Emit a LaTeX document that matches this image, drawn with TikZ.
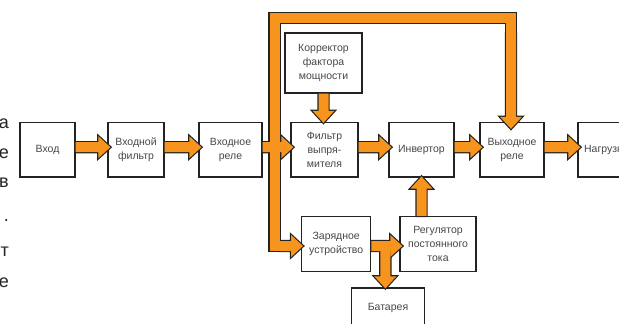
\documentclass[tikz,border=0pt]{standalone}
\usepackage{fontspec}
\setmainfont{Liberation Sans}
\usetikzlibrary{calc}

\pgfdeclarelayer{pipeback}
\pgfsetlayers{pipeback,main}

\definecolor{pipeorange}{RGB}{247,148,30}
\definecolor{boxline}{RGB}{35,35,35}
\definecolor{labelgray}{RGB}{70,70,70}

\tikzset{
  blk/.style={draw=boxline, line width=1.3pt, align=center, text=labelgray,
    font=\fontsize{10.5}{13.8}\selectfont, inner sep=1pt},
  frag/.style={text=boxline, font=\fontsize{18}{20}\selectfont, inner sep=0pt, anchor=base east},
}

% orange pipe: black outline behind, orange fill in front
\newcommand{\pipe}[1]{%
  \begin{pgfonlayer}{pipeback}
    \draw[boxline, line width=2.4pt, line join=miter] #1;
  \end{pgfonlayer}
  \fill[pipeorange] #1;}
\newcommand{\pipeline}[1]{%
  \begin{pgfonlayer}{pipeback}
    \draw[boxline, line width=12.4pt, line join=miter] #1;
  \end{pgfonlayer}
  \draw[pipeorange, line width=10pt, line join=miter] #1;}
% block arrow from #1 to tip #2
\newcommand{\blockarrow}[2]{%
  \coordinate (S) at (#1);
  \coordinate (T) at (#2);
  \coordinate (B) at ($(T)!12pt!(S)$);
  \pipe{($(S)!5pt!90:(T)$) -- ($(B)!5pt!-90:(S)$) -- ($(B)!11pt!-90:(S)$) -- (T) -- ($(B)!11pt!90:(S)$) -- ($(B)!5pt!90:(S)$) -- ($(S)!5pt!-90:(T)$) -- cycle}}
\newcommand{\harrow}[2]{\blockarrow{$(#1.east)+(0,-2.5)$}{$(#1.east -| #2.west)+(3,-2.5)$}}

\begin{document}
\begin{tikzpicture}[x=1pt,y=1pt,yscale=-1,xscale=1]
\useasboundingbox (0,0) rectangle (619,324);

% Text Node
\node[frag] (fragA) at (9,128) {а};
\node[frag] (fragB) at (9,158) {е};
\node[frag] (fragC) at (9,187) {в};
\node[frag] (fragD) at (9,221) {.};
\node[frag] (fragE) at (9,256) {т};
\node[frag] (fragF) at (9,287) {е};

% Block Nodes
\node[blk, minimum width=55pt, minimum height=54.5pt] (vhod) at (47.5,149.7) {Вход};
\node[blk, minimum width=56pt, minimum height=54.5pt] (vfiltr) at (136,149.7) {Входной\\фильтр};
\node[blk, minimum width=63pt, minimum height=54.5pt] (vrele) at (230.5,149.7) {Входное\\реле};
\node[blk, minimum width=67pt, minimum height=54.5pt] (filtr) at (324.5,149.7) {Фильтр\\выпря-\\мителя};
\node[blk, minimum width=65pt, minimum height=54.5pt] (invertor) at (421.5,149.7) {Инвертор};
\node[blk, minimum width=64pt, minimum height=54.5pt] (vyhrele) at (512,149.7) {Выходное\\реле};
\node[blk, minimum width=56pt, minimum height=54.5pt] (nagruzka) at (606,149.7) {Нагрузка};
\node[blk, minimum width=77pt, minimum height=60pt] (korrektor) at (323.5,63) {Корректор\\фактора\\мощности};
\node[blk, minimum width=69pt, minimum height=54.5pt] (zaryad) at (336.2,244) {Зарядное\\устройство};
\node[blk, minimum width=76pt, minimum height=55pt] (regul) at (438,244) {Регулятор\\постоянного\\тока};
\node[blk, minimum width=72.6pt, minimum height=40pt] (batareya) at (388,308) {Батарея};

% Bus
\coordinate (busL) at (274.5,18);
\coordinate (busR) at (511,18);
\coordinate (busB) at (274.5,246);
\pipeline{($(busB)+(10,0)$) -- (busB) -- (busL) -- (busR) -- ($(busR)+(0,20)$)}

% Block Arrows
\harrow{vhod}{vfiltr}
\harrow{vfiltr}{vrele}
\harrow{vrele}{filtr}
\harrow{filtr}{invertor}
\harrow{invertor}{vyhrele}
\harrow{vyhrele}{nagruzka}
\blockarrow{korrektor.south}{$(korrektor.south |- filtr.north)+(0,1)$}
\blockarrow{$(busR)+(0,15)$}{$(busR |- vyhrele.north)+(0,7)$}
\blockarrow{$(busB)+(5,0)$}{$(busB -| zaryad.west)+(2,0)$}
\blockarrow{$(zaryad.east)+(0,2)$}{$(zaryad.east -| regul.west)+(3,2)$}
\coordinate (tee) at ($(zaryad.east)!0.5!(regul.west)+(0,2)$);
\blockarrow{tee}{$(tee |- batareya.north)+(0,1)$}
\blockarrow{regul.north -| invertor.south}{$(invertor.south)+(0,-1)$}

\end{tikzpicture}
\end{document}
